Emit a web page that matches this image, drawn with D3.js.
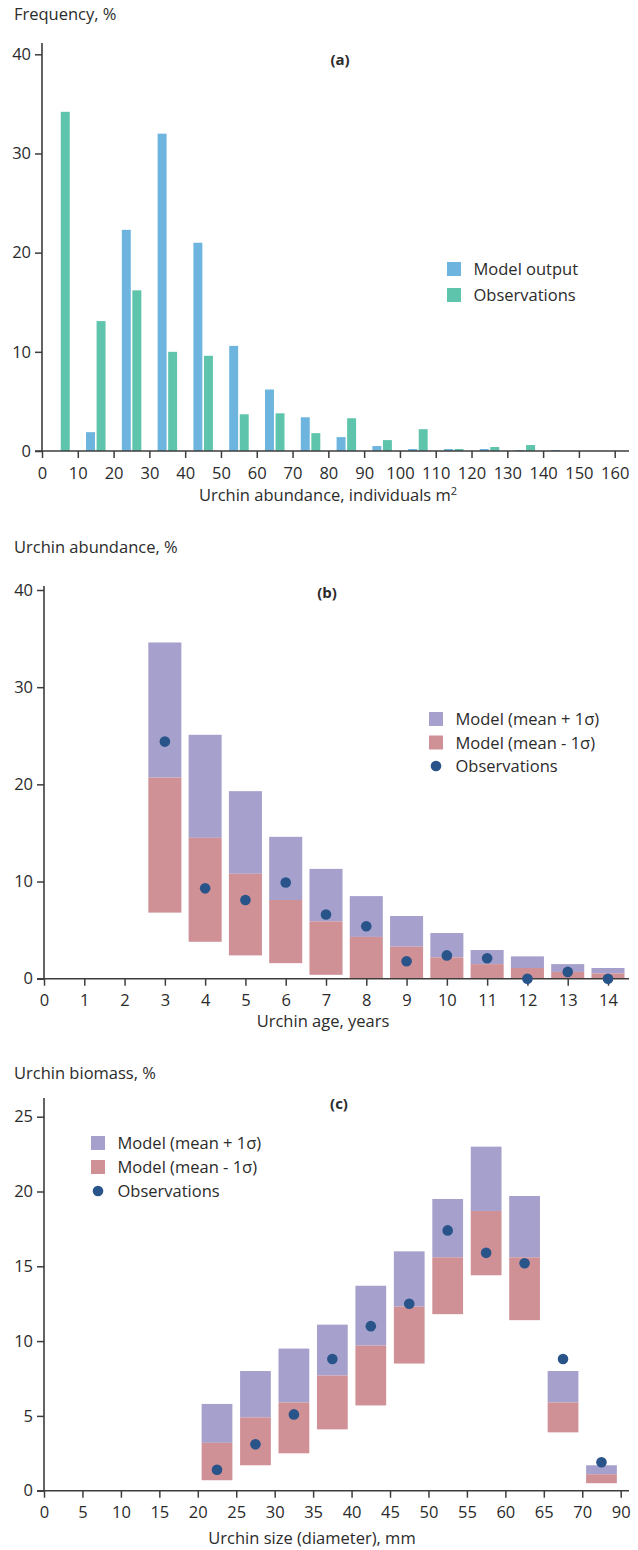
<!DOCTYPE html>
<html>
<head>
<meta charset="utf-8">
<script src="https://cdn.jsdelivr.net/npm/d3@7"></script>
<style>
  html, body { margin: 0; padding: 0; background: #fff; }
  svg text { font-family: "Open Sans", "Noto Sans", sans-serif; fill: #2b2b2b; }
</style>
</head>
<body>
<svg id="chart" width="638" height="1550"></svg>
<script>
// ---- Panel (a): frequency of urchin abundance, 10-unit bins ----
const binStarts = [0, 10, 20, 30, 40, 50, 60, 70, 80, 90, 100, 110, 120, 130, 140, 150];
const modelFreq = [0, 1.9, 22.3, 32.0, 21.0, 10.6, 6.2, 3.4, 1.4, 0.5, 0.2, 0.2, 0.2, 0.1, 0.1, 0];
const obsFreq   = [34.2, 13.1, 16.2, 10.0, 9.6, 3.7, 3.8, 1.8, 3.3, 1.1, 2.2, 0.2, 0.4, 0.6, 0, 0];
const abundanceTicks = [0, 10, 20, 30, 40, 50, 60, 70, 80, 90, 100, 110, 120, 130, 140, 150, 160];
const freqTicks = [0, 10, 20, 30, 40];

// ---- Panel (b): abundance by age ----
const ages      = [3, 4, 5, 6, 7, 8, 9, 10, 11, 12, 13, 14];
const ageLower  = [6.8, 3.8, 2.4, 1.6, 0.4, 0, 0, 0, 0, 0, 0, 0];
const ageMean   = [20.7, 14.5, 10.8, 8.1, 5.9, 4.3, 3.3, 2.2, 1.5, 1.1, 0.7, 0.55];
const ageUpper  = [34.6, 25.1, 19.3, 14.6, 11.3, 8.5, 6.45, 4.7, 2.95, 2.3, 1.5, 1.1];
const ageObs    = [24.4, 9.3, 8.1, 9.9, 6.6, 5.4, 1.8, 2.4, 2.1, 0, 0.7, 0];
const ageTicks  = [0, 1, 2, 3, 4, 5, 6, 7, 8, 9, 10, 11, 12, 13, 14];
const abundTicksB = [0, 10, 20, 30, 40];

// ---- Panel (c): biomass by size class ----
const sizeTicks = [0, 5, 10, 15, 20, 25, 30, 35, 40, 45, 50, 55, 60, 65, 70, 90];
const sizeFrom  = [20, 25, 30, 35, 40, 45, 50, 55, 60, 65, 70];
const sizeTo    = [25, 30, 35, 40, 45, 50, 55, 60, 65, 70, 90];
const sizeLower = [0.7, 1.7, 2.5, 4.1, 5.7, 8.5, 11.8, 14.4, 11.4, 3.9, 0.5];
const sizeMean  = [3.2, 4.9, 5.9, 7.7, 9.7, 12.3, 15.6, 18.7, 15.6, 5.9, 1.1];
const sizeUpper = [5.8, 8.0, 9.5, 11.1, 13.7, 16.0, 19.5, 23.0, 19.7, 8.0, 1.7];
const sizeObs   = [1.4, 3.1, 5.1, 8.8, 11.0, 12.5, 17.4, 15.9, 15.2, 8.8, 1.9];
const biomassTicks = [0, 5, 10, 15, 20, 25];

const COL = {
  model: "#6db5de",
  obs: "#5ec4ab",
  upper: "#a6a0cc",
  lower: "#cf9096",
  dot: "#28548a",
  axis: "#3d3d3d"
};
const FS = 16.5;

const svg = d3.select("#chart");

function drawAxes(g, x, y, opts) {
  // y axis
  const ya = g.append("g")
    .attr("transform", `translate(${opts.left},0)`)
    .call(d3.axisLeft(y).tickValues(opts.yTicks).tickSize(7).tickPadding(4).tickSizeOuter(0));
  ya.select(".domain").remove();
  ya.selectAll("line").attr("stroke", COL.axis).attr("stroke-width", 1.5);
  ya.selectAll("text").attr("font-size", FS).attr("fill", "#2b2b2b")
    .style("font-family", '"Open Sans", sans-serif');
  g.append("line")
    .attr("x1", opts.left).attr("x2", opts.left)
    .attr("y1", opts.y0 + 0.8).attr("y2", opts.yTop)
    .attr("stroke", COL.axis).attr("stroke-width", 1.6);

  // x axis
  const xa = g.append("g")
    .attr("transform", `translate(0,${opts.y0})`)
    .call(opts.xAxis.tickSize(7).tickPadding(9).tickSizeOuter(0));
  xa.select(".domain").remove();
  xa.selectAll("line").attr("stroke", COL.axis).attr("stroke-width", 1.5);
  xa.selectAll("text").attr("font-size", FS).attr("fill", "#2b2b2b")
    .style("font-family", '"Open Sans", sans-serif');
  g.append("line")
    .attr("x1", opts.left - 7).attr("x2", opts.right)
    .attr("y1", opts.y0).attr("y2", opts.y0)
    .attr("stroke", COL.axis).attr("stroke-width", 1.6);
}

function legend(g, x0, y0, items, gap) {
  items.forEach((it, i) => {
    const cy = y0 + i * gap;
    if (it.kind === "rect") {
      g.append("rect").attr("x", x0).attr("y", cy - 7).attr("width", 14).attr("height", 14)
        .attr("fill", it.color);
    } else {
      g.append("circle").attr("cx", x0 + 7).attr("cy", cy).attr("r", 5.3).attr("fill", it.color);
    }
    g.append("text").attr("x", x0 + 26.5).attr("y", cy + 6)
      .attr("font-size", FS).text(it.label);
  });
}

// ================= Panel (a) =================
{
  const g = svg.append("g");
  const x = d3.scaleLinear().domain([0, 160]).range([42, 614.7]);
  const y = d3.scaleLinear().domain([0, 40]).range([451, 54.3]);

  g.append("text").attr("x", 14).attr("y", 20).attr("font-size", FS).text("Frequency, %");
  g.append("text").attr("x", 340).attr("y", 65).attr("font-size", 15).attr("font-weight", "bold")
    .attr("text-anchor", "middle").text("(a)");

  const bw = 2.5;
  g.selectAll("rect.model").data(binStarts.map((b, i) => ({ b, v: modelFreq[i] })).filter(d => d.v > 0))
    .enter().append("rect").attr("class", "model")
    .attr("x", d => x(d.b + 2.3)).attr("width", d => x(d.b + 2.3 + bw) - x(d.b + 2.3))
    .attr("y", d => y(d.v)).attr("height", d => y(0) - y(d.v))
    .attr("fill", COL.model);
  g.selectAll("rect.obs").data(binStarts.map((b, i) => ({ b, v: obsFreq[i] })).filter(d => d.v > 0))
    .enter().append("rect").attr("class", "obs")
    .attr("x", d => x(d.b + 5.25)).attr("width", d => x(d.b + 5.25 + bw) - x(d.b + 5.25))
    .attr("y", d => y(d.v)).attr("height", d => y(0) - y(d.v))
    .attr("fill", COL.obs);

  drawAxes(g, x, y, {
    left: 42, right: 629, y0: 451, yTop: 43, yTicks: freqTicks,
    xAxis: d3.axisBottom(x).tickValues(abundanceTicks)
  });

  const t = g.append("text").attr("x", 328).attr("y", 501).attr("font-size", FS)
    .attr("text-anchor", "middle");
  t.append("tspan").text("Urchin abundance, individuals m");
  t.append("tspan").attr("dy", -6).attr("font-size", 11).text("2");

  legend(g, 447, 269, [
    { kind: "rect", color: COL.model, label: "Model output" },
    { kind: "rect", color: COL.obs, label: "Observations" }
  ], 26);
}

// ================= Panel (b) =================
{
  const g = svg.append("g");
  const x = d3.scaleLinear().domain([0, 14]).range([44, 608]);
  const y = d3.scaleLinear().domain([0, 40]).range([978.7, 590]);

  g.append("text").attr("x", 14).attr("y", 553).attr("font-size", FS).text("Urchin abundance, %");
  g.append("text").attr("x", 327).attr("y", 598).attr("font-size", 15).attr("font-weight", "bold")
    .attr("text-anchor", "middle").text("(b)");

  const hw = 0.41;
  const rows = ages.map((a, i) => ({ a, lo: ageLower[i], m: ageMean[i], hi: ageUpper[i], o: ageObs[i] }));
  g.selectAll("rect.up").data(rows).enter().append("rect")
    .attr("x", d => x(d.a - hw)).attr("width", d => x(d.a + hw) - x(d.a - hw))
    .attr("y", d => y(d.hi)).attr("height", d => y(d.m) - y(d.hi))
    .attr("fill", COL.upper);
  g.selectAll("rect.lo").data(rows).enter().append("rect")
    .attr("x", d => x(d.a - hw)).attr("width", d => x(d.a + hw) - x(d.a - hw))
    .attr("y", d => y(d.m)).attr("height", d => y(d.lo) - y(d.m))
    .attr("fill", COL.lower);

  drawAxes(g, x, y, {
    left: 44, right: 629, y0: 978.7, yTop: 586, yTicks: abundTicksB,
    xAxis: d3.axisBottom(x).tickValues(ageTicks).tickFormat(d3.format("d"))
  });

  g.selectAll("circle.obs").data(rows).enter().append("circle")
    .attr("cx", d => x(d.a)).attr("cy", d => y(d.o)).attr("r", 5.3).attr("fill", COL.dot);

  g.append("text").attr("x", 323).attr("y", 1027).attr("font-size", FS)
    .attr("text-anchor", "middle").text("Urchin age, years");

  legend(g, 429, 719, [
    { kind: "rect", color: COL.upper, label: "Model (mean + 1σ)" },
    { kind: "rect", color: COL.lower, label: "Model (mean - 1σ)" },
    { kind: "dot", color: COL.dot, label: "Observations" }
  ], 23.5);
}

// ================= Panel (c) =================
{
  const g = svg.append("g");
  const x = d3.scalePoint().domain(sizeTicks).range([44, 620.7]);
  const y = d3.scaleLinear().domain([0, 25]).range([1490.7, 1116.7]);

  g.append("text").attr("x", 14).attr("y", 1079).attr("font-size", FS).text("Urchin biomass, %");
  g.append("text").attr("x", 339).attr("y", 1109).attr("font-size", 15).attr("font-weight", "bold")
    .attr("text-anchor", "middle").text("(c)");

  const rows = sizeFrom.map((s, i) => ({
    s, e: sizeTo[i], lo: sizeLower[i], m: sizeMean[i], hi: sizeUpper[i], o: sizeObs[i]
  }));
  const step = x.step();
  const bw = step * 0.8;
  const cx = d => (x(d.s) + x(d.e)) / 2;

  g.selectAll("rect.up").data(rows).enter().append("rect")
    .attr("x", d => cx(d) - bw / 2).attr("width", bw)
    .attr("y", d => y(d.hi)).attr("height", d => y(d.m) - y(d.hi))
    .attr("fill", COL.upper);
  g.selectAll("rect.lo").data(rows).enter().append("rect")
    .attr("x", d => cx(d) - bw / 2).attr("width", bw)
    .attr("y", d => y(d.m)).attr("height", d => y(d.lo) - y(d.m))
    .attr("fill", COL.lower);

  drawAxes(g, x, y, {
    left: 44, right: 629, y0: 1490.7, yTop: 1098, yTicks: biomassTicks,
    xAxis: d3.axisBottom(x)
  });

  g.selectAll("circle.obs").data(rows).enter().append("circle")
    .attr("cx", cx).attr("cy", d => y(d.o)).attr("r", 5.3).attr("fill", COL.dot);

  g.append("text").attr("x", 312).attr("y", 1544).attr("font-size", FS)
    .attr("text-anchor", "middle").text("Urchin size (diameter), mm");

  legend(g, 91, 1143, [
    { kind: "rect", color: COL.upper, label: "Model (mean + 1σ)" },
    { kind: "rect", color: COL.lower, label: "Model (mean - 1σ)" },
    { kind: "dot", color: COL.dot, label: "Observations" }
  ], 24);
}
</script>
</body>
</html>
